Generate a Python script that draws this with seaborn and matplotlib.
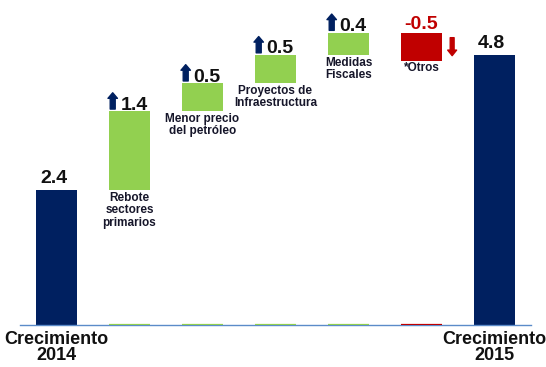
import numpy as np
import pandas as pd
import matplotlib
matplotlib.use("Agg")
import matplotlib.pyplot as plt
import seaborn as sns

# Contributions to GDP growth, 2014 -> 2015
categories = ["Crecimiento 2014", "Rebote sectores primarios", "Menor precio del petróleo",
              "Proyectos de Infraestructura", "Medidas Fiscales", "*Otros", "Crecimiento 2015"]
changes = [2.4, 1.4, 0.5, 0.5, 0.4, -0.5, 4.8]
kinds = ["total", "up", "up", "up", "up", "down", "total"]
bar_texts = ["", "Rebote\nsectores\nprimarios", "Menor precio\ndel petróleo",
             "Proyectos de\nInfraestructura", "Medidas\nFiscales", "*Otros", ""]
tick_texts = ["Crecimiento\n2014", "", "", "", "", "", "Crecimiento\n2015"]

NAVY, GREEN, RED = "#002060", "#92D050", "#C00000"
AXIS_BLUE = "#5B8BC9"
kind_color = {"total": NAVY, "up": GREEN, "down": RED}

# Waterfall geometry from the running level
bottoms, heights = [], []
level = 0.0
for v, k in zip(changes, kinds):
    if k == "total":
        bottoms.append(0.0)
        heights.append(v)
        level = v
    else:
        new = level + v
        bottoms.append(min(level, new))
        heights.append(abs(v))
        level = new
bottoms = np.array(bottoms)
heights = np.array(heights)
tops = bottoms + heights

df = pd.DataFrame({"categoria": categories, "altura": heights})

sns.set_style("white")
plt.rcParams["font.family"] = ["Liberation Sans", "DejaVu Sans"]

fig = plt.figure(figsize=(5.46, 3.67), dpi=100)
ax = fig.add_axes([20 / 546, 42 / 367, 511 / 546, 325 / 367])

sns.barplot(data=df, x="categoria", y="altura", order=categories, bottom=bottoms,
            width=0.56, color=NAVY, linewidth=0, ax=ax)
for patch, k in zip(ax.patches, kinds):
    patch.set_facecolor(kind_color[k])

ax.set_xlim(-0.5, len(categories) - 0.5)
ax.set_ylim(0, 5.78)

# Thin baseline stubs under the floating bars
for i, k in enumerate(kinds):
    if k != "total":
        ax.hlines(0.0, i - 0.28, i + 0.28, color=kind_color[k], lw=1.6, zorder=3)

# Axes styling
for side in ["top", "right", "left"]:
    ax.spines[side].set_visible(False)
ax.spines["bottom"].set_color(AXIS_BLUE)
ax.spines["bottom"].set_linewidth(1.0)
ax.set_yticks([])
ax.set_ylabel("")
ax.set_xlabel("")
ax.set_xticks(range(len(categories)))
ax.set_xticklabels(tick_texts, fontsize=13, fontweight="bold", color="#111111")
ax.tick_params(axis="x", which="major", length=0, pad=4)
ax.set_xticks(np.arange(-0.5, len(categories), 1.0), minor=True)
ax.tick_params(axis="x", which="minor", length=4, width=1, color=AXIS_BLUE, direction="out")
for t in ax.get_xticklabels():
    t.set_linespacing(0.95)


def arrow(x, y_tail, y_head, color, tail=0.45, head=0.85):
    style = f"simple,head_length=0.5,head_width={head},tail_width={tail}"
    ax.annotate("", xy=(x, y_head), xytext=(x, y_tail),
                arrowprops=dict(arrowstyle=style, color=color, shrinkA=0, shrinkB=0,
                                mutation_scale=8),
                annotation_clip=False)


# Value labels, arrows and category captions
for i, (v, k) in enumerate(zip(changes, kinds)):
    label = f"{v:.1f}"
    top, bot = tops[i], bottoms[i]
    if k == "total":
        ax.text(i - 0.04, top + 0.13, label, ha="center", va="baseline", fontsize=14,
                fontweight="bold", color="#111111")
    elif k == "up":
        arrow(i - 0.23, top + 0.04, top + 0.33, NAVY)
        ax.text(i - 0.12, top + 0.03, label, ha="left", va="baseline", fontsize=14,
                fontweight="bold", color="#111111")
    else:
        arrow(i + 0.42, top - 0.09, top - 0.41, RED, tail=0.35, head=0.8)
        ax.text(i, top + 0.07, label, ha="center", va="baseline", fontsize=14,
                fontweight="bold", color=RED)
    if bar_texts[i]:
        ax.text(i, bot - 0.03, bar_texts[i], ha="center", va="top", fontsize=8.5,
                fontweight="bold", color="#16162a", linespacing=1.05)

fig.savefig("out.png", dpi=100)
